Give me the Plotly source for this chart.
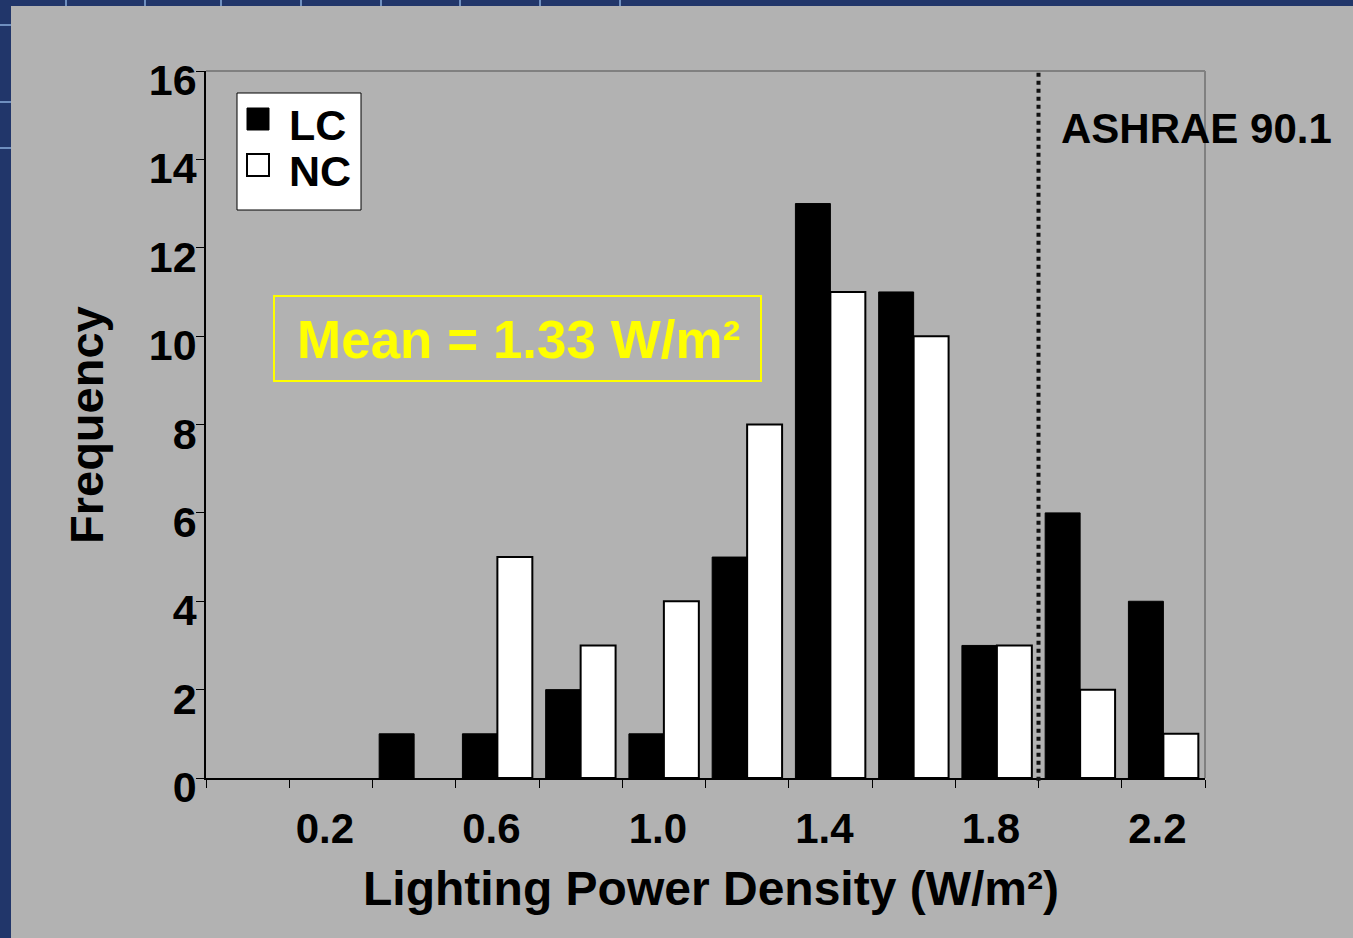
import plotly.graph_objects as go

# ---- data ----
categories = ["0.0", "0.2", "0.4", "0.6", "0.8", "1.0", "1.2", "1.4", "1.6", "1.8", "2.0", "2.2"]
lc_values = [0, 0, 1, 1, 2, 1, 5, 13, 11, 3, 6, 4]
nc_values = [0, 0, 0, 5, 3, 4, 8, 11, 10, 3, 2, 1]
tick_text = [c if i % 2 == 1 else " " for i, c in enumerate(categories)]
y_ticks = [0, 2, 4, 6, 8, 10, 12, 14, 16]
series_names = ["LC", "NC"]
mean_label = "Mean = 1.33 W/m²"
x_title = "Lighting Power Density (W/m²)"
y_title = "Frequency"
standard_label = "ASHRAE 90.1"
standard_position = 9.5  # between the 1.8 and 2.0 bins

W, H = 1353, 938
L, R, T, B = 206, 1205, 71, 778
FONT = "Liberation Sans, Arial, sans-serif"
GRAY = "#b2b2b2"
BLUE = "#21366a"


def px(x):
    return (x - L) / (R - L)


def py(y):
    return (B - y) / (B - T)


def outline(values, w):
    return [w if v > 0 else 0 for v in values]


fig = go.Figure()
fig.add_trace(go.Bar(x=categories, y=lc_values, name=series_names[0],
                     marker=dict(color="black", line=dict(color="black", width=outline(lc_values, 1))),
                     showlegend=False))
fig.add_trace(go.Bar(x=categories, y=nc_values, name=series_names[1],
                     marker=dict(color="white", line=dict(color="black", width=outline(nc_values, 2))),
                     showlegend=False))

shapes = []
# slide background grid lines in the blue strips
for xv in [66, 145, 221, 301, 381, 460, 540, 620]:
    shapes.append(dict(type="line", xref="paper", yref="paper", x0=px(xv), x1=px(xv),
                       y0=py(0), y1=py(8), line=dict(color="#6f8fbf", width=2), layer="below"))
for yv in [25, 102, 148]:
    shapes.append(dict(type="line", xref="paper", yref="paper", x0=px(0), x1=px(12),
                       y0=py(yv), y1=py(yv), line=dict(color="#6f8fbf", width=2), layer="below"))
# gray slide panel
shapes.append(dict(type="rect", xref="paper", yref="paper", x0=px(11), x1=px(W + 5),
                   y0=py(6), y1=py(H + 5), fillcolor=GRAY, line=dict(width=0), layer="below"))
# top & right gray frame
shapes.append(dict(type="line", xref="paper", yref="paper", x0=0, x1=1, y0=1, y1=1,
                   line=dict(color="#808080", width=2)))
shapes.append(dict(type="line", xref="paper", yref="paper", x0=1, x1=1, y0=0, y1=1,
                   line=dict(color="#808080", width=2)))
# standard limit line
shapes.append(dict(type="line", xref="x", yref="paper", x0=standard_position, x1=standard_position,
                   y0=-0.004, y1=1, line=dict(color="#111111", width=4, dash="dot")))
# legend box
shapes.append(dict(type="rect", xref="paper", yref="paper", x0=px(237), x1=px(361),
                   y0=py(210), y1=py(93), fillcolor="white", line=dict(color="black", width=1)))
shapes.append(dict(type="rect", xref="paper", yref="paper", x0=px(247), x1=px(269),
                   y0=py(130), y1=py(108), fillcolor="black", line=dict(color="black", width=1)))
shapes.append(dict(type="rect", xref="paper", yref="paper", x0=px(247), x1=px(269),
                   y0=py(176), y1=py(154), fillcolor="white", line=dict(color="black", width=2)))
# mean box
shapes.append(dict(type="rect", xref="paper", yref="paper", x0=px(274), x1=px(761),
                   y0=py(381), y1=py(296), line=dict(color="#ffff00", width=2)))

annotations = [
    dict(text=series_names[0], xref="paper", yref="paper", x=px(287), y=py(125),
         xanchor="left", yanchor="middle", showarrow=False,
         font=dict(family=FONT, size=43, color="black", weight="bold")),
    dict(text=series_names[1], xref="paper", yref="paper", x=px(287), y=py(171),
         xanchor="left", yanchor="middle", showarrow=False,
         font=dict(family=FONT, size=43, color="black", weight="bold")),
    dict(text=mean_label, xref="paper", yref="paper", x=px(518), y=py(339),
         xanchor="center", yanchor="middle", showarrow=False,
         font=dict(family=FONT, size=53, color="#ffff00", weight="bold")),
    dict(text=standard_label, xref="paper", yref="paper", x=px(1059), y=py(129),
         xanchor="left", yanchor="middle", showarrow=False,
         font=dict(family=FONT, size=42, color="black", weight="bold")),
    dict(text=x_title, xref="paper", yref="paper", x=px(711), y=py(888),
         xanchor="center", yanchor="middle", showarrow=False,
         font=dict(family=FONT, size=48, color="black", weight="bold")),
    dict(text=y_title, xref="paper", yref="paper", x=px(86), y=py(425),
         xanchor="center", yanchor="middle", showarrow=False, textangle=-90,
         font=dict(family=FONT, size=47, color="black", weight="bold")),
]

fig.update_layout(
    width=W, height=H,
    margin=dict(l=L, r=W - R, t=T, b=H - B, pad=0),
    paper_bgcolor=BLUE,
    plot_bgcolor="rgba(0,0,0,0)",
    barmode="group", bargap=0.16, bargroupgap=0,
    showlegend=False,
    shapes=shapes,
    annotations=annotations,
    xaxis=dict(
        type="category", tickmode="array", tickvals=categories, ticktext=tick_text,
        tickson="boundaries", ticks="outside", ticklen=8, tickwidth=1, tickcolor="black",
        showline=True, linecolor="black", linewidth=1.5, showgrid=False, zeroline=False,
        ticklabelstandoff=13, ticklabelshift=-6,
        tickfont=dict(family=FONT, size=42, color="black", weight="bold"),
        range=[-0.5, len(categories) - 0.5],
    ),
    yaxis=dict(
        range=[0, 16], tickmode="array", tickvals=y_ticks,
        ticks="outside", ticklen=8, tickwidth=1, tickcolor="black",
        showline=True, linecolor="black", linewidth=1.5, showgrid=False, zeroline=False,
        ticklabelstandoff=-9, ticklabelshift=9,
        tickfont=dict(family=FONT, size=43, color="black", weight="bold"),
    ),
)

fig.write_html("out.html")
